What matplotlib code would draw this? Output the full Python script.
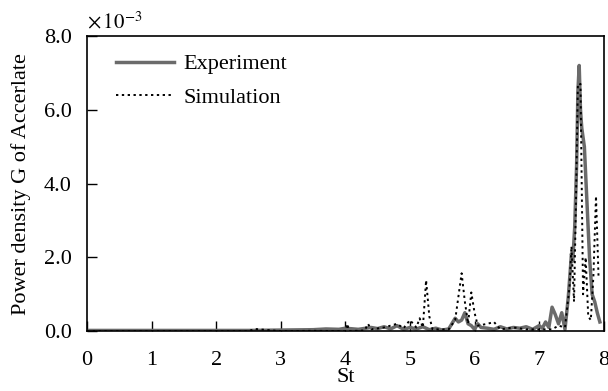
import matplotlib
matplotlib.use('Agg')
import matplotlib.pyplot as plt

# Experiment (St, G x 1e-3)
exp_st = [0.0, 0.5, 1.0, 1.5, 2.0, 2.5, 3.0, 3.5, 3.7, 3.9, 4.0, 4.2, 4.4, 4.5, 4.6, 4.7,
          4.8, 4.9, 5.0, 5.1, 5.2, 5.3, 5.4, 5.5, 5.6, 5.7, 5.75, 5.8, 5.85, 5.9, 5.95,
          6.0, 6.05, 6.1, 6.2, 6.3, 6.4, 6.5, 6.6, 6.7, 6.8, 6.9, 7.0, 7.05, 7.1, 7.15,
          7.2, 7.25, 7.3, 7.35, 7.4, 7.45, 7.48, 7.5, 7.52, 7.55, 7.58, 7.6, 7.62, 7.64,
          7.66, 7.7, 7.74, 7.78, 7.82, 7.86, 7.9, 7.94]
exp_g = [0.02, 0.02, 0.02, 0.02, 0.02, 0.02, 0.03, 0.04, 0.06, 0.05, 0.08, 0.05, 0.10, 0.07,
         0.12, 0.06, 0.15, 0.05, 0.10, 0.06, 0.12, 0.04, 0.08, 0.03, 0.06, 0.35, 0.25, 0.30,
         0.50, 0.20, 0.15, 0.05, 0.20, 0.10, 0.08, 0.05, 0.12, 0.06, 0.10, 0.08, 0.12, 0.05,
         0.15, 0.08, 0.25, 0.10, 0.65, 0.45, 0.20, 0.50, 0.05, 0.90, 1.6, 2.1, 1.9, 2.8, 4.5,
         6.5, 7.2, 6.0, 5.5, 5.0, 3.5, 2.0, 1.0, 0.8, 0.5, 0.25]

# Simulation
sim_st = [0.0, 1.0, 2.0, 2.5, 2.6, 3.0, 3.5, 4.0, 4.03, 4.06, 4.3, 4.35, 4.4, 4.6, 4.8, 4.9,
          5.0, 5.1, 5.15, 5.2, 5.25, 5.3, 5.35, 5.6, 5.7, 5.8, 5.85, 5.9, 5.95, 6.0, 6.05,
          6.2, 6.3, 6.4, 6.6, 6.8, 7.0, 7.2, 7.3, 7.4, 7.47, 7.5, 7.54, 7.57, 7.6, 7.64,
          7.68, 7.72, 7.76, 7.8, 7.84, 7.88, 7.92]
sim_g = [0.0, 0.0, 0.0, 0.0, 0.06, 0.0, 0.01, 0.0, 0.2, 0.0, 0.02, 0.2, 0.05, 0.1, 0.2, 0.08,
         0.3, 0.1, 0.35, 0.1, 1.38, 0.4, 0.05, 0.05, 0.3, 1.57, 0.8, 0.2, 1.05, 0.5, 0.15,
         0.2, 0.25, 0.05, 0.1, 0.05, 0.05, 0.05, 0.15, 0.1, 1.2, 2.3, 0.8, 3.5, 6.7, 6.7,
         1.0, 2.0, 0.4, 0.3, 1.5, 3.66, 1.44]

plt.rcParams['font.family'] = 'Liberation Serif'
plt.rcParams['font.size'] = 16

fig = plt.figure(figsize=(6.08, 3.91), dpi=100)
ax = fig.add_axes([0.143, 0.153, 0.850, 0.755])

ax.plot(exp_st, exp_g, color='#6b6b6b', lw=2.5, label='Experiment')
ax.plot(sim_st, sim_g, color='black', lw=1.4, ls=(0, (1.2, 1.8)), label='Simulation')

ax.set_xlim(0, 8)
ax.set_ylim(0, 8)
ax.set_xticks([0, 1, 2, 3, 4, 5, 6, 7, 8])
ax.set_yticks([0, 2, 4, 6, 8])
ax.set_yticklabels(['0.0', '2.0', '4.0', '6.0', '8.0'])
ax.tick_params(direction='in', length=7, width=1, top=False, right=False)
ax.tick_params(axis='x', pad=14)
ax.tick_params(axis='y', pad=11)
for s in ax.spines.values():
    s.set_linewidth(1.2)

ax.set_xlabel('St', labelpad=-1)
ax.set_ylabel('Power density G of Accerlate', labelpad=9)
ax.text(0.0, 1.01, r'$\times\,10^{-3}$', transform=ax.transAxes, fontsize=15,
        ha='left', va='bottom', math_fontfamily='stix')

leg = ax.legend(loc='upper left', bbox_to_anchor=(0.014, 1.015), frameon=False,
                handlelength=2.6, handletextpad=0.4, labelspacing=0.6,
                borderaxespad=0.5, borderpad=0.5)

fig.savefig('out.png', dpi=100)
